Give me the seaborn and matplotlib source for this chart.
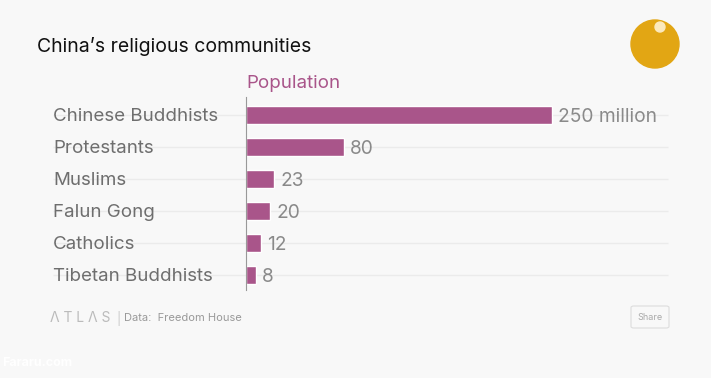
import seaborn as sns
import matplotlib.pyplot as plt
import matplotlib.patches as mpatches
import pandas as pd

# Data (millions of people)
groups = ['Chinese Buddhists', 'Protestants', 'Muslims', 'Falun Gong',
          'Catholics', 'Tibetan Buddhists']
population = [250, 80, 23, 20, 12, 8]
value_labels = ['250 million', '80', '23', '20', '12', '8']

df = pd.DataFrame({'Group': groups, 'Population': population})

sns.set_style("white")
plt.rcParams['font.family'] = ['Inter', 'DejaVu Sans']

W, H = 711, 378
fig = plt.figure(figsize=(W / 100, H / 100), dpi=100)
fig.patch.set_facecolor('#f8f8f8')

# axes: zero line at x=246px, right end 668px; rows from y=97px to 290px
ax = fig.add_axes([246 / W, 1 - 290 / H, (668 - 246) / W, (290 - 97) / H])
ax.set_facecolor('none')

px_per_unit = (552 - 246) / 250
xmax = (668 - 246) / px_per_unit

# grid lines behind bars, running into the label area
ax.hlines(range(len(groups)), -(246 - 53) / px_per_unit, xmax,
          color='#ebebeb', linewidth=1, zorder=0, clip_on=False)

sns.barplot(data=df, x='Population', y='Group', orient='h',
            color='#a9558a', saturation=1, width=0.56, ax=ax, zorder=2)

ax.set_xlim(0, xmax)
ax.set_ylim(5.47, -0.56)
ax.set_xlabel('')
ax.set_ylabel('')
ax.set_xticks([])
ax.set_yticks([])
for s in ['top', 'right', 'bottom']:
    ax.spines[s].set_visible(False)
ax.spines['left'].set_color('#999999')
ax.spines['left'].set_linewidth(0.8)

# category labels
for i, g in enumerate(groups):
    ax.text(-(246 - 53) / px_per_unit, i, g, ha='left', va='center_baseline',
            fontsize=13.5, color='#6e6e6e', clip_on=False)

# value labels
for i, (v, lab) in enumerate(zip(population, value_labels)):
    ax.text(v + 6 / px_per_unit, i, lab, ha='left', va='center_baseline',
            fontsize=13.8, color='#8a8a8a', clip_on=False)

# header texts
fig.text(37 / W, 1 - 45 / H, "China\u2019s religious communities",
         fontsize=14, color='#111111', ha='left', va='center_baseline')
fig.text(246 / W, 1 - 82 / H, 'Population', fontsize=13.5,
         color='#a9558a', ha='left', va='center_baseline')

# logo circle
fig.patches.append(mpatches.Ellipse((655 / W, 1 - 44 / H), 48 / W, 48 / H,
                                    transform=fig.transFigure,
                                    color='#e2a614', zorder=5))
fig.patches.append(mpatches.Ellipse((660 / W, 1 - 27 / H), 10 / W, 10 / H,
                                    transform=fig.transFigure,
                                    color='#fbe9bd', zorder=6))

# footer
fig.text(50 / W, 1 - 318 / H, '\u039b T L \u039b S', fontsize=10,
         color='#bbbbbb', ha='left', va='center')
fig.text(116 / W, 1 - 318 / H, '|', fontsize=9, color='#cccccc',
         ha='left', va='center')
fig.text(124 / W, 1 - 318 / H, 'Data:  Freedom House', fontsize=8,
         color='#999999', ha='left', va='center')
share = mpatches.FancyBboxPatch((631 / W, 1 - 328 / H), 38 / W, 22 / H,
                                boxstyle='round,pad=0,rounding_size=0.004',
                                transform=fig.transFigure,
                                facecolor='#f8f8f8', edgecolor='#dddddd',
                                linewidth=0.8)
fig.patches.append(share)
fig.text(650 / W, 1 - 317 / H, 'Share', fontsize=6.5, color='#aaaaaa',
         ha='center', va='center')

fig.text(2 / W, 1 - 363 / H, 'Fararu.com', fontsize=9, color='#ffffff',
         fontweight='bold', ha='left', va='center')

fig.savefig('out.png', dpi=100, facecolor=fig.get_facecolor())
